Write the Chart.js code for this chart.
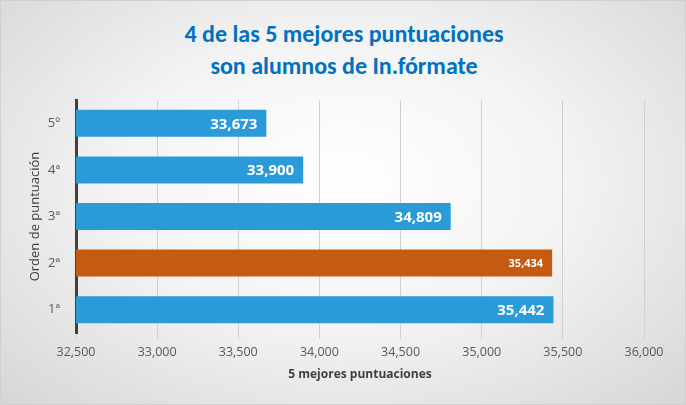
<!DOCTYPE html>
<html><head><meta charset="utf-8">
<script src="https://cdn.jsdelivr.net/npm/chart.js@4"></script>
<style>
html,body{margin:0;padding:0;}
#wrap{position:relative;width:686px;height:405px;background:radial-gradient(ellipse at 50% 45%,#ffffff 0%,#f4f4f4 45%,#d6d6d6 100%);overflow:hidden;box-sizing:border-box;border:1px solid #d0d0d0;}
#title{position:absolute;left:0;top:17px;width:686px;text-align:center;font-family:Calibri,Carlito,"Open Sans",sans-serif;font-weight:bold;color:#0070C0;font-size:24px;line-height:32px;}
canvas{position:absolute;left:0;top:0;}
</style></head><body>
<div id="wrap"><div id="title">4 de las 5 mejores puntuaciones<br>son alumnos de In.fórmate</div>
<canvas id="c" width="686" height="405"></canvas></div>
<script>
const categories=["5º","4ª","3ª","2ª","1ª"];
const values=[33673,33900,34809,35434,35442];
const colors=["#2A9AD8","#2A9AD8","#2A9AD8","#C55A11","#2A9AD8"];
const labelSizes=[15,15,15,11,15];
const font="'Open Sans',sans-serif";
const labelPlugin={id:'lbl',afterDatasetsDraw(ch){const ctx=ch.ctx;const m=ch.getDatasetMeta(0);ctx.save();ctx.fillStyle='#fff';ctx.textAlign='right';ctx.textBaseline='middle';
m.data.forEach((b,i)=>{ctx.font='bold '+labelSizes[i]+'px '+font;ctx.fillText(values[i].toLocaleString('en-US'),b.x-9,b.y+1);});ctx.restore();}};
new Chart(document.getElementById('c'),{type:'bar',
data:{labels:categories,datasets:[{data:values,backgroundColor:colors,barPercentage:0.58,categoryPercentage:1}]},
options:{indexAxis:'y',responsive:false,animation:false,
layout:{padding:{top:99,left:22,right:43,bottom:20}},
plugins:{legend:{display:false},tooltip:{enabled:false}},
scales:{
x:{min:32500,max:36000,ticks:{stepSize:500,color:'#595959',font:{family:font,size:12.5},padding:6,callback:v=>v.toLocaleString('en-US')},
grid:{color:'#d0d0d0',tickLength:6,drawTicks:true},border:{display:false},
title:{display:true,text:'5 mejores puntuaciones',color:'#404040',font:{family:font,size:12,weight:'bold'},padding:{top:2}},
afterFit(s){s.height=53;}},
y:{ticks:{color:'#595959',font:{family:font,size:13},padding:8},grid:{display:false},border:{display:true,color:'#404040',width:3},
title:{display:true,text:'Orden de puntuación',color:'#404040',font:{family:font,size:13},padding:{bottom:2}},
afterFit(s){s.width=53;}}}},
plugins:[labelPlugin]});
</script></body></html>
